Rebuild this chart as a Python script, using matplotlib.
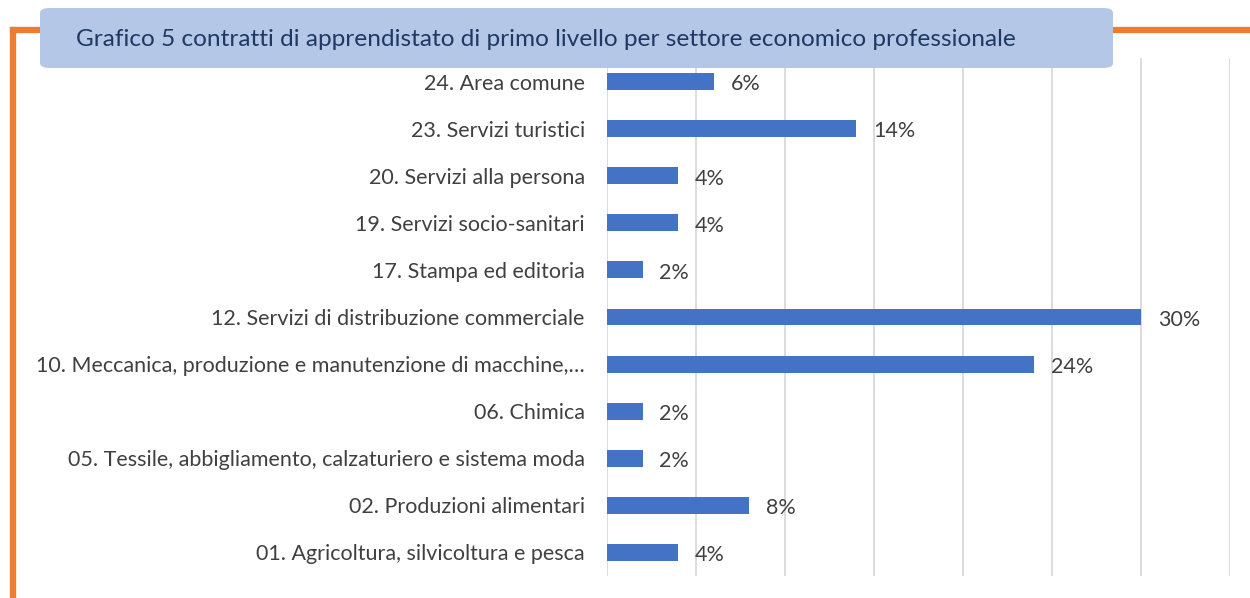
#!/usr/bin/env python3
"""Grafico 5: contratti di apprendistato di primo livello per settore."""
import matplotlib

matplotlib.use("Agg")
import matplotlib.pyplot as plt
from matplotlib.patches import FancyBboxPatch
from matplotlib.lines import Line2D

TITLE = "Grafico 5 contratti di apprendistato di primo livello per settore economico professionale"

SECTORS = [
    "01. Agricoltura, silvicoltura e pesca",
    "02. Produzioni alimentari",
    "05. Tessile, abbigliamento, calzaturiero e sistema moda",
    "06. Chimica",
    "10. Meccanica, produzione e manutenzione di macchine,\u2026",
    "12. Servizi di distribuzione commerciale",
    "17. Stampa ed editoria",
    "19. Servizi socio-sanitari",
    "20. Servizi alla persona",
    "23. Servizi turistici",
    "24. Area comune",
]
SHARES = [4, 8, 2, 2, 24, 30, 2, 4, 4, 14, 6]
X_TICKS = [0, 5, 10, 15, 20, 25, 30, 35]

BAR = "#4472C4"
TEXT = "#404040"
GRID = "#D9D9D9"
ORANGE = "#ED7D31"

plt.rcParams["font.family"] = ["Lato", "DejaVu Sans"]

W, H = 1250, 598
fig = plt.figure(figsize=(W / 100, H / 100), dpi=100)

# orange frame
fig.add_artist(Line2D([13 / W, 13 / W], [0, 1 - 29.5 / H], color=ORANGE, lw=4.5,
                      solid_capstyle="projecting", transform=fig.transFigure))
fig.add_artist(Line2D([13 / W, 1], [1 - 29.5 / H, 1 - 29.5 / H], color=ORANGE, lw=4.5,
                      solid_capstyle="projecting", transform=fig.transFigure))

ax = fig.add_axes([607 / W, 1 - 576 / H, (1230 - 607) / W, (576 - 58) / H])
y = list(range(len(SECTORS)))
ax.barh(y, SHARES, height=0.36, color=BAR, zorder=3)
ax.set_xlim(0, 35)
ax.set_ylim(-0.5, len(SECTORS) - 0.5)
ax.set_xticks(X_TICKS)
ax.set_xticklabels([])
ax.tick_params(axis="x", length=0)
ax.set_yticks(y)
ax.set_yticklabels(SECTORS, fontsize=15.5, color=TEXT)
ax.tick_params(axis="y", length=0, pad=16)
ax.grid(True, axis="x", color=GRID, linewidth=1.3, zorder=0)
for s in ax.spines.values():
    s.set_visible(False)

for yi, v in zip(y, SHARES):
    ax.annotate(f"{v}%", xy=(v, yi), xytext=(12, -2), textcoords="offset points",
                ha="left", va="center", fontsize=15.5, color=TEXT)

# title box
box = FancyBboxPatch((40 / W, 1 - 68 / H), (1113 - 40) / W, 60 / H,
                     boxstyle="round,pad=0,rounding_size=0.008",
                     transform=fig.transFigure, facecolor="#B4C7E7",
                     edgecolor="none", zorder=5)
fig.add_artist(box)
fig.text(76 / W, 1 - 40 / H, TITLE, fontsize=17.6, color="#1F3864",
         ha="left", va="center", zorder=6)

fig.savefig("out.png", dpi=100)
